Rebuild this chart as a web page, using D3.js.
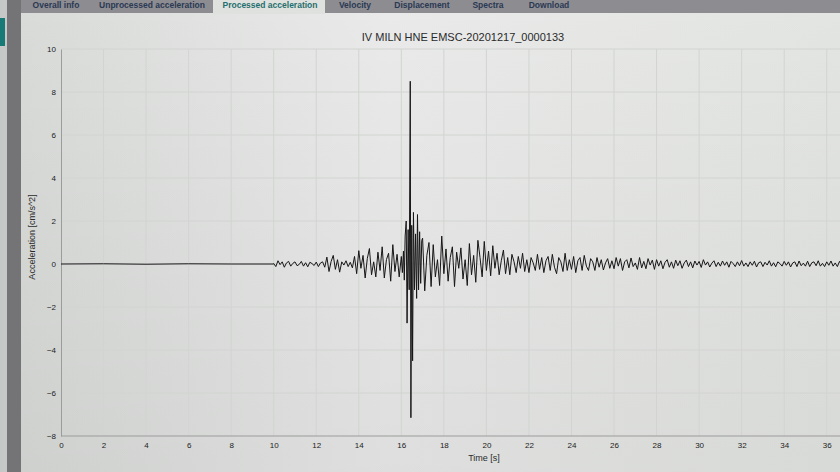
<!DOCTYPE html>
<html><head><meta charset="utf-8">
<script src="https://cdn.jsdelivr.net/npm/d3@7"></script>
<style>body{margin:0;overflow:hidden;}svg{display:block;}</style>
</head><body>
<svg id="c" width="840" height="472"></svg>
<script>
// ---- data ----
const tabs = ["Overall info","Unprocessed acceleration","Processed acceleration","Velocity","Displacement","Spectra","Download"];
const activeTab = "Processed acceleration";
const title = "IV MILN HNE EMSC-20201217_0000133";
const xTicks = [0,2,4,6,8,10,12,14,16,18,20,22,24,26,28,30,32,34,36];
const yTicks = [-8,-6,-4,-2,0,2,4,6,8,10];
// quiet pre-event segment (time s, accel cm/s^2)
const quietTime = [0, 2, 4, 6, 8, 10];
const quietAccel = [0, 0.01, -0.01, 0.01, 0, 0];
// sampled segments, 0.1 s spacing
const sampleStep = 0.1;
const preStart = 10.0;
const preAccel = [
  0.02,-0.12,0.15,-0.03,0.1,-0.15,0.05,0.12,-0.1,0.03,
  0.1,-0.08,-0.02,0.12,-0.1,0.06,-0.13,0.08,0.02,-0.07,
  0.09,-0.12,0.05,0.1,-0.15,0.32,-0.35,0.12,0.4,-0.25,
  0.2,-0.38,0.1,-0.05,0.15,-0.12,0.08,-0.18,0.35,-0.45,
  0.62,-0.2,0.4,-0.65,0.25,0.72,-0.5,0.1,-0.6,0.55,
  -0.3,0.8,-0.65,0.2,0.5,-0.8,0.9,-0.35,0.45,-0.6
];
// main burst, irregular sampling
const burstTime  = [16.0,16.05,16.1,16.14,16.18,16.23,16.27,16.32,16.37,16.42,16.45,16.49,16.53,16.57,16.62,16.67,16.72,16.76,16.81,16.86,16.91,16.96];
const burstAccel = [0.35,-0.4,0.6,-0.75,1.3,2.0,-2.75,1.6,-1.2,8.5,-7.15,1.8,-4.5,2.4,-1.2,1.4,-1.6,2.3,-1.2,1.5,-0.9,1.1];
const codaStart = 17.0;
const codaAccel = [
  1.2,-1.25,0.4,1.0,-1.05,0.9,-0.6,0.2,-1.0,1.3,
  -0.45,0.7,-0.8,0.3,0.8,-1.05,0.55,-0.2,0.75,-0.7,
  0.2,-1.0,0.95,-0.5,0.4,-0.85,1.1,0.3,-0.6,1.05,
  -0.3,0.6,-0.55,0.85,-0.2,0.5,-0.5,0.15,0.65,-0.45,
  0.3,-0.5,0.45,0.1,-0.4,0.35,-0.2,0.5,-0.35,0.2,
  -0.4,0.3,0.05,-0.3,0.45,-0.25,0.3,-0.4,0.15,0.35,
  -0.3,0.45,-0.15,-0.45,0.3,0.1,-0.35,0.5,-0.3,0.2,
  -0.25,0.35,-0.4,0.15,0.3,-0.3,0.4,-0.1,-0.3,0.25,
  0.1,-0.3,0.3,-0.15,0.2,-0.28,0.05,0.25,-0.2,0.15,
  -0.22,0.3,-0.1,0.25,-0.3,0.1,0.2,-0.18,0.28,-0.12,
  0.05,-0.25,0.3,-0.18,0.12,-0.22,0.25,-0.05,0.18,-0.25,
  0.2,-0.1,0.15,-0.22,0.08,0.2,-0.15,0.1,-0.2,0.18,
  -0.08,0.15,-0.2,0.05,0.18,-0.12,0.1,-0.18,0.14,-0.05,
  0.12,-0.16,0.2,-0.05,0.1,-0.14,0.04,0.15,-0.12,0.08,
  -0.1,0.14,-0.06,0.1,-0.15,0.12,0.02,-0.12,0.1,-0.08,
  0.16,-0.1,0.05,-0.12,0.1,-0.06,0.13,-0.14,0.06,0.1,
  -0.12,0.08,-0.05,0.15,-0.1,0.06,-0.13,0.1,0.02,-0.1,
  0.12,-0.06,0.1,-0.14,0.05,0.1,-0.12,0.14,-0.08,0.04,
  -0.1,0.13,-0.12,0.06,0.1,-0.08,0.15,-0.1,0.03,-0.12,
  0.1,-0.06,0.14,-0.1,0.05,-0.12,0.12,-0.04,0.1,-0.08
];

// ---- build series ----
const pts = [];
quietTime.forEach((t,i)=>pts.push([t, quietAccel[i]]));
preAccel.forEach((a,i)=>pts.push([preStart + i*sampleStep, a]));
burstTime.forEach((t,i)=>pts.push([t, burstAccel[i]]));
codaAccel.forEach((a,i)=>pts.push([codaStart + i*sampleStep, a]));
pts.sort((a,b)=>a[0]-b[0]);

const svg = d3.select("#c");
const W = 840, H = 472;
const FONT = "Liberation Sans, Arial, sans-serif";
const defs = svg.append("defs");
const g1 = defs.append("linearGradient").attr("id","bg").attr("x1","0").attr("x2","1").attr("y1","0").attr("y2","0");
g1.append("stop").attr("offset","0").attr("stop-color","#d9dbd9");
g1.append("stop").attr("offset","0.45").attr("stop-color","#e9eae9");
g1.append("stop").attr("offset","1").attr("stop-color","#e3e5e2");
const g2 = defs.append("linearGradient").attr("id","shade").attr("x1","0").attr("x2","0").attr("y1","0").attr("y2","1");
g2.append("stop").attr("offset","0").attr("stop-color","#000").attr("stop-opacity","0");
g2.append("stop").attr("offset","1").attr("stop-color","#000").attr("stop-opacity","0.05");

// page chrome
svg.append("rect").attr("width",W).attr("height",H).attr("fill","#c6c8c7");
svg.append("rect").attr("x",0).attr("y",18).attr("width",5).attr("height",28).attr("fill","#187a77");
svg.append("rect").attr("x",7).attr("y",0).attr("width",14).attr("height",H).attr("fill","#747477");
svg.append("rect").attr("x",21).attr("y",0).attr("width",W-21).attr("height",H).attr("fill","url(#bg)");
svg.append("rect").attr("x",21).attr("y",0).attr("width",W-21).attr("height",H).attr("fill","url(#shade)");
svg.append("rect").attr("x",21).attr("y",0).attr("width",W-21).attr("height",13).attr("fill","#8d8c90");
const tabX = {"Overall info":56,"Unprocessed acceleration":152,"Processed acceleration":270,"Velocity":355,"Displacement":422,"Spectra":488,"Download":549};
svg.append("rect").attr("x",213).attr("y",0).attr("width",112).attr("height",14).attr("fill","#dfe1df");
tabs.forEach(t=>{
  svg.append("text").attr("x",tabX[t]).attr("y",8).attr("text-anchor","middle")
    .attr("font-family",FONT).attr("font-size",8.5).attr("font-weight","bold")
    .attr("fill", t===activeTab ? "#1f6f6e" : "#2a3954").text(t);
});

// scales
const x = d3.scaleLinear().domain([0,37]).range([61,848]);
const y = d3.scaleLinear().domain([-8,10]).range([436,49]);

// grid
const grid = svg.append("g");
grid.selectAll(".vg").data(xTicks.filter(d=>d>0)).enter().append("line")
  .attr("x1",d=>x(d)).attr("x2",d=>x(d)).attr("y1",y(10)).attr("y2",y(-8))
  .attr("stroke","#d2d4d2").attr("stroke-width",1);
grid.selectAll(".hg").data(yTicks.filter(d=>d>-8)).enter().append("line")
  .attr("x1",x(0)).attr("x2",W).attr("y1",d=>y(d)).attr("y2",d=>y(d))
  .attr("stroke","#d2d4d2").attr("stroke-width",1);

// axes
const xAxis = d3.axisBottom(x).tickValues(xTicks).tickSize(0).tickPadding(6).tickFormat(d3.format("d"));
const yAxis = d3.axisLeft(y).tickValues(yTicks).tickSize(0).tickPadding(5).tickFormat(d3.format("d"));
const gx = svg.append("g").attr("transform",`translate(0,${y(-8)})`).call(xAxis);
const gy = svg.append("g").attr("transform",`translate(${x(0)},0)`).call(yAxis);
[gx,gy].forEach(g=>{
  g.select(".domain").attr("stroke","#9b9c9b").attr("stroke-width",1);
  g.selectAll("text").attr("font-family",FONT).attr("font-size",8).attr("fill","#222");
});
gx.select(".domain").attr("d",`M${x(0)},0H${W}`);

// trace
svg.append("path").datum(pts)
  .attr("d", d3.line().x(d=>x(d[0])).y(d=>y(d[1])))
  .attr("fill","none").attr("stroke","#161616").attr("stroke-width",1).attr("stroke-linejoin","round");

// titles
svg.append("text").attr("x",463).attr("y",41).attr("text-anchor","middle")
  .attr("font-family",FONT).attr("font-size",11).attr("fill","#2a2a2a").text(title);
svg.append("text").attr("transform","translate(35,237) rotate(-90)").attr("text-anchor","middle")
  .attr("font-family",FONT).attr("font-size",9).attr("fill","#2a2a2a").text("Acceleration [cm/s^2]");
svg.append("text").attr("x",484).attr("y",461).attr("text-anchor","middle")
  .attr("font-family",FONT).attr("font-size",9).attr("fill","#2a2a2a").text("Time [s]");
</script>
</body></html>
